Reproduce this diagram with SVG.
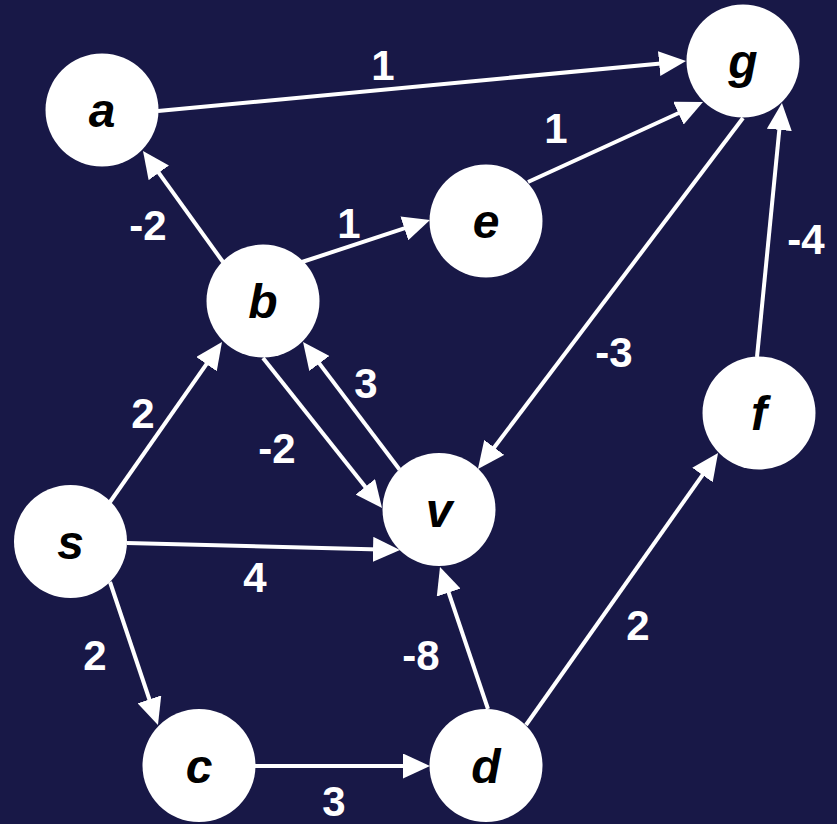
<svg xmlns="http://www.w3.org/2000/svg" width="837" height="824" viewBox="0 0 837 824">
<defs>
<marker id="arr" markerUnits="userSpaceOnUse" markerWidth="27" markerHeight="25" refX="7" refY="12.5" orient="auto">
<path d="M0,0 L27,12.5 L0,25 Z" fill="#ffffff"/>
</marker>
<style>
.e{stroke:#ffffff;stroke-width:4;fill:none;marker-end:url(#arr)}
.n{fill:#ffffff}
.nl{font-family:"Liberation Sans",Arial,sans-serif;font-weight:bold;font-style:italic;font-size:48px;fill:#000000;text-anchor:middle}
.el{font-family:"Liberation Sans",Arial,sans-serif;font-weight:bold;font-size:42px;fill:#ffffff;text-anchor:middle}
</style>
</defs>
<rect width="837" height="824" fill="#181847"/>
<g id="connectors">
<line class="e" x1="158" y1="111" x2="666.1" y2="62.9"/>
<line class="e" x1="223" y1="262" x2="154.7" y2="167.2"/>
<line class="e" x1="302" y1="262" x2="411" y2="226.2"/>
<line class="e" x1="528" y1="182" x2="684.8" y2="110.3"/>
<line class="e" x1="743" y1="118" x2="490" y2="453"/>
<line class="e" x1="757" y1="357" x2="780" y2="122.9"/>
<line class="e" x1="110" y1="502" x2="210.5" y2="358.4"/>
<line class="e" x1="263" y1="358" x2="369.6" y2="492.3"/>
<line class="e" x1="399.5" y1="469.5" x2="315.1" y2="357.9"/>
<line class="e" x1="127" y1="543" x2="380" y2="549.5"/>
<line class="e" x1="110" y1="582" x2="151.6" y2="706"/>
<line class="e" x1="255" y1="766" x2="410" y2="766"/>
<line class="e" x1="488" y1="709" x2="446.4" y2="585.9"/>
<line class="e" x1="526" y1="725" x2="706.5" y2="469.3"/>
</g>
<g id="edge-labels">
<text class="el" x="383" y="79.5">1</text>
<text class="el" x="556" y="142.5">1</text>
<text class="el" x="148" y="239.5">-2</text>
<text class="el" x="349" y="237.5">1</text>
<text class="el" x="143" y="427.5">2</text>
<text class="el" x="366" y="397.5">3</text>
<text class="el" x="277" y="462.5">-2</text>
<text class="el" x="614" y="366.5">-3</text>
<text class="el" x="806" y="253.5">-4</text>
<text class="el" x="255" y="591.5">4</text>
<text class="el" x="95" y="669.5">2</text>
<text class="el" x="421" y="669.5">-8</text>
<text class="el" x="638" y="639.5">2</text>
<text class="el" x="334" y="815.5">3</text>
</g>
<g id="node-a"><circle class="n" cx="102" cy="110" r="56.5"/><text class="nl" x="102" y="127">a</text></g>
<g id="node-g"><circle class="n" cx="743" cy="61" r="56.5"/><text class="nl" x="743" y="78">g</text></g>
<g id="node-e"><circle class="n" cx="486" cy="221" r="56.5"/><text class="nl" x="486" y="238">e</text></g>
<g id="node-b"><circle class="n" cx="263" cy="301" r="56.5"/><text class="nl" x="263" y="318">b</text></g>
<g id="node-f"><circle class="n" cx="759" cy="413" r="56.5"/><text class="nl" x="759" y="430">f</text></g>
<g id="node-v"><circle class="n" cx="439" cy="509.5" r="56.5"/><text class="nl" x="439" y="526.5">v</text></g>
<g id="node-s"><circle class="n" cx="70.5" cy="541.5" r="56.5"/><text class="nl" x="70.5" y="558.5">s</text></g>
<g id="node-c"><circle class="n" cx="199" cy="765.5" r="56.5"/><text class="nl" x="199" y="782.5">c</text></g>
<g id="node-d"><circle class="n" cx="486" cy="765.5" r="56.5"/><text class="nl" x="486" y="782.5">d</text></g>
</svg>
